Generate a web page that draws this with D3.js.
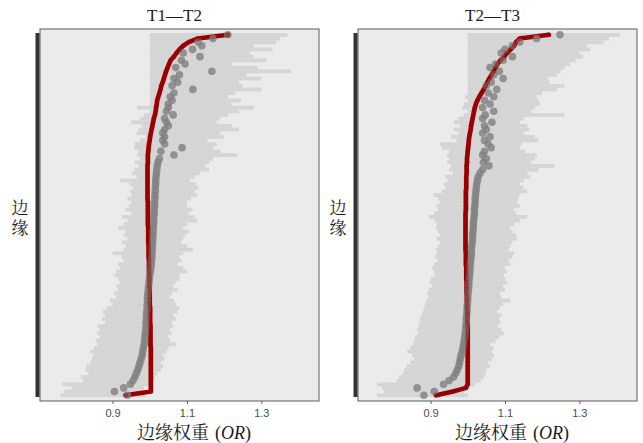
<!DOCTYPE html>
<html>
<head>
<meta charset="utf-8">
<script src="https://cdn.jsdelivr.net/npm/d3@7"></script>
<style>
  body { margin: 0; background: #fff; }
  svg { display: block; }
</style>
</head>
<body>
<svg id="chart" width="643" height="443"></svg>
<script>
// edges sorted by fitted weight, listed from top row to bottom row

// T1—T2
const t12Lower = [
  1.0, 1.0, 1.0, 1.0, 1.0, 1.0, 1.0, 1.0, 1.0, 1.0,
  1.0, 1.0, 1.0, 1.0, 1.0, 1.0, 1.0, 1.0, 1.0, 1.0,
  0.966, 1.0, 0.985, 0.975, 0.95, 0.98, 0.97, 0.965, 0.99, 0.973,
  0.96, 0.958, 0.97, 0.966, 0.975, 0.96, 0.97, 0.958, 0.952, 0.965,
  0.92, 0.945, 0.955, 0.948, 0.952, 0.94, 0.95, 0.945, 0.935, 0.95,
  0.925, 0.94, 0.93, 0.915, 0.935, 0.93, 0.94, 0.925, 0.935, 0.93,
  0.90, 0.925, 0.93, 0.915, 0.92, 0.91, 0.905, 0.915, 0.92, 0.91,
  0.915, 0.905, 0.91, 0.893, 0.90, 0.885, 0.874, 0.88, 0.872, 0.88,
  0.86, 0.865, 0.858, 0.866, 0.855, 0.86, 0.85, 0.84, 0.848, 0.845,
  0.84, 0.83, 0.828, 0.835, 0.815, 0.82, 0.765, 0.79, 0.77, 0.76
];
const t12Upper = [
  1.37, 1.35, 1.34, 1.28, 1.33, 1.27, 1.28, 1.315, 1.22, 1.29,
  1.38, 1.26, 1.30, 1.24, 1.25, 1.30, 1.23, 1.21, 1.245, 1.22,
  1.28, 1.24, 1.21, 1.19, 1.18, 1.22, 1.24, 1.19, 1.20, 1.155,
  1.18, 1.17, 1.19, 1.235, 1.17, 1.16, 1.15, 1.16, 1.135, 1.12,
  1.108, 1.125, 1.13, 1.12, 1.127, 1.11, 1.10, 1.10, 1.115, 1.105,
  1.12, 1.127, 1.10, 1.09, 1.105, 1.095, 1.09, 1.085, 1.10, 1.116,
  1.09, 1.08, 1.085, 1.075, 1.09, 1.10, 1.08, 1.081, 1.07, 1.063,
  1.075, 1.06, 1.054, 1.065, 1.07, 1.08, 1.075, 1.063, 1.07, 1.06,
  1.063, 1.054, 1.058, 1.05, 1.055, 1.07, 1.05, 1.045, 1.036, 1.04,
  1.03, 1.036, 1.03, 1.02, 1.014, 1.01, 1.0, 0.985, 0.98, 0.99
];
const t12Est = [
  1.21, 1.17, 1.13, 1.14, 1.115, 1.09, 1.135, 1.085, 1.095, 1.07,
  1.167, 1.08, 1.065, 1.075, 1.06, 1.116, 1.065, 1.055, 1.06, 1.05,
  1.05, 1.045, 1.063, 1.04, 1.045, 1.05, 1.04, 1.035, 1.04, 1.035,
  1.04, 1.087, 1.03, 1.065, 1.026, 1.022, 1.02, 1.019, 1.018, 1.017,
  1.016, 1.016, 1.015, 1.015, 1.014, 1.014, 1.013, 1.013, 1.012, 1.012,
  1.011, 1.011, 1.01, 1.01, 1.009, 1.009, 1.008, 1.008, 1.007, 1.007,
  1.006, 1.006, 1.005, 1.004, 1.003, 1.002, 1.0, 0.999, 0.998, 0.997,
  0.996, 0.995, 0.994, 0.994, 0.993, 0.993, 0.992, 0.991, 0.991, 0.99,
  0.99, 0.989, 0.988, 0.987, 0.986, 0.985, 0.983, 0.981, 0.98, 0.977,
  0.974, 0.971, 0.968, 0.964, 0.96, 0.955, 0.948, 0.93, 0.905, 0.94
];
const t12Fit = [
  1.21, 1.13, 1.105, 1.09, 1.08, 1.072, 1.065, 1.056, 1.052, 1.048,
  1.044, 1.041, 1.038, 1.035, 1.031, 1.029, 1.026, 1.023, 1.02, 1.019,
  1.017, 1.016, 1.014, 1.011, 1.009, 1.007, 1.005, 1.003, 1.001, 1.0,
  0.998, 0.997, 0.996, 0.995, 0.995, 0.995, 0.994, 0.994, 0.994, 0.994,
  0.994, 0.994, 0.994, 0.994, 0.994, 0.994, 0.995, 0.995, 0.995, 0.995,
  0.995, 0.995, 0.995, 0.996, 0.996, 0.996, 0.996, 0.996, 0.997, 0.997,
  0.997, 0.997, 0.998, 0.998, 0.998, 0.998, 0.999, 0.999, 0.999, 0.999,
  1.0, 1.0, 1.0, 1.0, 1.0, 1.001, 1.001, 1.001, 1.001, 1.001,
  1.002, 1.002, 1.002, 1.002, 1.002, 1.002, 1.003, 1.003, 1.003, 1.003,
  1.003, 1.003, 1.003, 1.003, 1.003, 1.003, 1.003, 1.003, 1.003, 0.935
];

// T2—T3
const t23Lower = [
  1.0, 1.0, 1.0, 1.0, 1.0, 1.0, 1.0, 1.0, 1.0, 1.0,
  1.0, 1.0, 1.0, 1.0, 1.0, 1.0, 1.0, 0.993, 1.0, 0.99,
  0.985, 1.0, 0.99, 0.975, 0.963, 0.98, 0.963, 0.975, 0.955, 0.97,
  0.925, 0.93, 0.95, 0.944, 0.95, 0.945, 0.955, 0.95, 0.96, 0.94,
  0.945, 0.936, 0.94, 0.93, 0.909, 0.92, 0.925, 0.917, 0.92, 0.91,
  0.896, 0.91, 0.917, 0.915, 0.92, 0.925, 0.917, 0.925, 0.92, 0.915,
  0.917, 0.912, 0.92, 0.91, 0.905, 0.909, 0.91, 0.90, 0.898, 0.905,
  0.895, 0.89, 0.895, 0.888, 0.885, 0.882, 0.88, 0.875, 0.872, 0.87,
  0.868, 0.864, 0.866, 0.858, 0.856, 0.852, 0.845, 0.837, 0.85, 0.856,
  0.845, 0.835, 0.829, 0.825, 0.815, 0.81, 0.756, 0.77, 0.775, 0.756
];
const t23Upper = [
  1.41, 1.38, 1.365, 1.32, 1.33, 1.30, 1.31, 1.29, 1.275, 1.26,
  1.25, 1.24, 1.215, 1.22, 1.26, 1.24, 1.20, 1.185, 1.19, 1.195,
  1.18, 1.17, 1.26, 1.15, 1.14, 1.16, 1.165, 1.15, 1.18, 1.19,
  1.145, 1.14, 1.155, 1.186, 1.18, 1.17, 1.232, 1.19, 1.16, 1.167,
  1.15, 1.14, 1.15, 1.159, 1.14, 1.135, 1.132, 1.14, 1.125, 1.13,
  1.16, 1.14, 1.125, 1.114, 1.12, 1.13, 1.132, 1.12, 1.114, 1.11,
  1.124, 1.12, 1.11, 1.115, 1.10, 1.105, 1.097, 1.10, 1.106, 1.095,
  1.10, 1.087, 1.09, 1.114, 1.095, 1.085, 1.079, 1.09, 1.085, 1.087,
  1.08, 1.09, 1.097, 1.085, 1.075, 1.06, 1.07, 1.065, 1.071, 1.065,
  1.055, 1.06, 1.05, 1.048, 1.044, 1.035, 1.02, 1.0, 0.99, 1.0
];
const t23Est = [
  1.248, 1.185, 1.14, 1.12, 1.10, 1.09, 1.12, 1.095, 1.075, 1.06,
  1.085, 1.07, 1.095, 1.063, 1.05, 1.078, 1.055, 1.07, 1.045, 1.06,
  1.04, 1.07, 1.047, 1.04, 1.065, 1.045, 1.05, 1.04, 1.06, 1.045,
  1.055, 1.063, 1.045, 1.04, 1.05, 1.042, 1.057, 1.04, 1.033, 1.028,
  1.026, 1.024, 1.023, 1.022, 1.021, 1.02, 1.02, 1.019, 1.018, 1.018,
  1.017, 1.016, 1.015, 1.015, 1.014, 1.013, 1.013, 1.012, 1.011, 1.01,
  1.01, 1.009, 1.008, 1.007, 1.006, 1.006, 1.005, 1.004, 1.003, 1.003,
  1.002, 1.001, 1.0, 1.0, 0.999, 0.998, 0.998, 0.997, 0.996, 0.996,
  0.995, 0.994, 0.993, 0.992, 0.99, 0.989, 0.987, 0.985, 0.982, 0.98,
  0.978, 0.976, 0.972, 0.968, 0.962, 0.95, 0.935, 0.864, 0.91, 0.882
];
const t23Fit = [
  1.218, 1.14, 1.13, 1.125, 1.115, 1.105, 1.098, 1.088, 1.08, 1.075,
  1.07, 1.064, 1.058, 1.053, 1.048, 1.043, 1.037, 1.031, 1.026, 1.022,
  1.019, 1.017, 1.015, 1.013, 1.011, 1.009, 1.008, 1.006, 1.004, 1.003,
  1.002, 1.001, 1.0, 0.999, 0.998, 0.998, 0.997, 0.997, 0.997, 0.996,
  0.996, 0.996, 0.996, 0.995, 0.995, 0.995, 0.995, 0.995, 0.995, 0.994,
  0.994, 0.994, 0.994, 0.994, 0.994, 0.994, 0.994, 0.994, 0.994, 0.994,
  0.995, 0.995, 0.995, 0.995, 0.996, 0.996, 0.996, 0.996, 0.997, 0.997,
  0.997, 0.997, 0.998, 0.998, 0.998, 0.998, 0.999, 0.999, 0.999, 0.999,
  1.0, 1.0, 1.0, 1.0, 1.0, 1.0, 1.0, 1.0, 1.0, 1.0,
  1.0, 1.0, 1.0, 1.0, 1.0, 1.0, 1.0, 0.995, 0.96, 0.915
];

const panelTitles = ["T1\u2014T2", "T2\u2014T3"];
const xTicks = [0.9, 1.1, 1.3];
const xDomain = [0.705, 1.455];

const panels = [
  { title: panelTitles[0], lower: t12Lower, upper: t12Upper, est: t12Est, fit: t12Fit, left: 40, right: 319 },
  { title: panelTitles[1], lower: t23Lower, upper: t23Upper, est: t23Est, fit: t23Fit, left: 358, right: 637 }
];

const plotTop = 29, plotBottom = 401;
const serif = "'Liberation Serif', 'Times New Roman', serif";
const cjk = "'Noto Serif CJK SC', 'Noto Sans CJK SC', serif";

const svg = d3.select("#chart");
const rows = d3.range(t12Lower.length);
const y = d3.scaleBand().domain(rows).range([33, 397]);
const yc = i => y(i) + y.bandwidth() / 2;

panels.forEach(p => {
  const x = d3.scaleLinear().domain(xDomain).range([p.left, p.right]);
  const g = svg.append("g");
  const cx = (p.left + p.right) / 2;

  g.append("rect")
    .attr("x", p.left).attr("y", plotTop)
    .attr("width", p.right - p.left).attr("height", plotBottom - plotTop)
    .attr("fill", "#ebebeb");

  // interval per edge
  g.append("g").selectAll("rect").data(rows).join("rect")
    .attr("x", i => x(p.lower[i]))
    .attr("width", i => x(p.upper[i]) - x(p.lower[i]))
    .attr("y", i => y(i))
    .attr("height", y.bandwidth() + 0.2)
    .attr("fill", "#d5d5d5");

  // fitted weights (red)
  const line = d3.line().x(i => x(p.fit[i])).y(yc);
  g.append("path").datum(rows)
    .attr("d", line)
    .attr("fill", "none")
    .attr("stroke", "#960000")
    .attr("stroke-width", 4.6)
    .attr("stroke-linejoin", "round")
    .attr("stroke-linecap", "round");

  // raw estimates (grey)
  g.append("g").selectAll("circle").data(rows).join("circle")
    .attr("cx", i => x(p.est[i]))
    .attr("cy", yc)
    .attr("r", 3.8)
    .attr("fill", "#808080")
    .attr("fill-opacity", 0.8);

  g.append("g").selectAll("circle").data(rows).join("circle")
    .attr("cx", i => x(p.fit[i]))
    .attr("cy", yc)
    .attr("r", 2.5)
    .attr("fill", "#a00000")
    .attr("fill-opacity", 0.4);

  g.append("rect")
    .attr("x", p.left).attr("y", plotTop)
    .attr("width", p.right - p.left).attr("height", plotBottom - plotTop)
    .attr("fill", "none")
    .attr("stroke", "#5a5a5a")
    .attr("stroke-width", 1);

  // dark bar along the y axis
  g.append("line")
    .attr("x1", p.left - 2.5).attr("x2", p.left - 2.5)
    .attr("y1", y(0)).attr("y2", y(rows.length - 1) + y.bandwidth())
    .attr("stroke", "#333")
    .attr("stroke-width", 4);

  const axis = d3.axisBottom(x)
    .tickValues(xTicks)
    .tickFormat(d3.format(".1f"))
    .tickSize(3)
    .tickPadding(5);
  const ax = g.append("g").attr("transform", `translate(0,${plotBottom})`).call(axis);
  ax.select(".domain").remove();
  ax.selectAll(".tick line").attr("stroke", "#5a5a5a");
  ax.selectAll(".tick text")
    .attr("fill", "#4d4d4d")
    .style("font-family", "'Liberation Sans', Arial, sans-serif")
    .style("font-size", "11px");

  g.append("text")
    .attr("x", cx - 5).attr("y", 21)
    .attr("text-anchor", "middle")
    .style("font-family", serif)
    .style("font-size", "17px")
    .attr("fill", "#1a1a1a")
    .text(p.title);

  const xl = g.append("text")
    .attr("x", p.left + 97).attr("y", 439)
    .attr("text-anchor", "start")
    .attr("fill", "#1a1a1a")
    .style("font-size", "18px");
  xl.append("tspan").style("font-family", cjk).text("边缘权重");
  xl.append("tspan").attr("dx", 6).style("font-family", serif).text("(");
  xl.append("tspan").style("font-family", serif).style("font-style", "italic").text("OR");
  xl.append("tspan").style("font-family", serif).text(")");

  // y title, set vertically
  g.append("text")
    .attr("x", p.left - 20).attr("y", 199)
    .attr("fill", "#1a1a1a")
    .style("writing-mode", "vertical-rl")
    .style("letter-spacing", "3px")
    .style("font-family", cjk)
    .style("font-size", "17px")
    .text("边缘");
});
</script>
</body>
</html>
